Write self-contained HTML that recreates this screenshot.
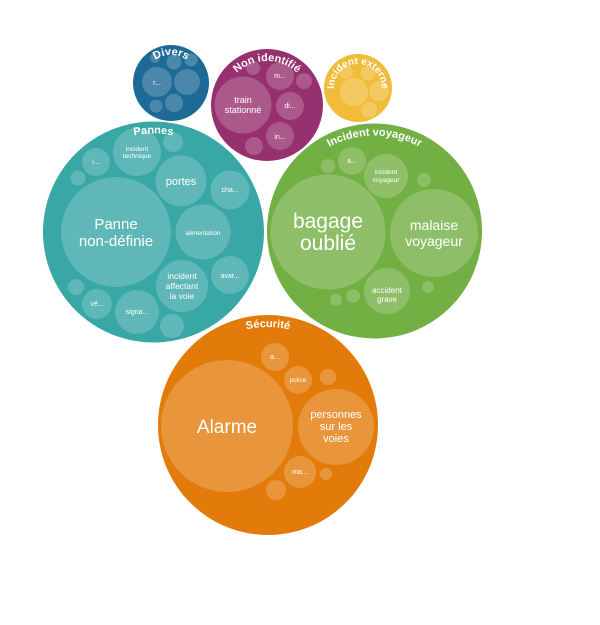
<!DOCTYPE html>
<html><head><meta charset="utf-8"><style>
html,body{margin:0;padding:0;background:#fff;width:600px;height:625px;overflow:hidden}
svg{display:block}
text{font-family:"Liberation Sans",sans-serif;fill:#fff;text-anchor:middle}
.t{font-weight:bold;font-size:11px}
</style></head><body>
<svg width="600" height="625" viewBox="0 0 600 625">
<defs>
<path id="aDiv" d="M143,83 A28,28 0 0 1 199,83"/>
<path id="aNon" d="M223,105 A44,44 0 0 1 311,105"/>
<path id="aExt" d="M337.2,100 A24,24 0 1 1 378.8,100"/>
<path id="aPan" d="M55,232 A98.5,98.5 0 0 1 252,232"/>
<path id="aVoy" d="M279,231 A95.5,95.5 0 0 1 470,231"/>
<path id="aSec" d="M170,425 A98,98 0 0 1 366,425"/>
</defs>
<g fill="#fff" fill-opacity="0.2">
<circle cx="171" cy="83" r="38" fill="#1e6a96" fill-opacity="1"/>
<circle cx="157" cy="82" r="15"/><circle cx="187" cy="82" r="13"/><circle cx="174" cy="103" r="9"/>
<circle cx="156" cy="106" r="6.5"/><circle cx="174" cy="62" r="7.5"/><circle cx="191" cy="60" r="6.5"/><circle cx="155" cy="58" r="5"/>
<circle cx="267" cy="105" r="56" fill="#96306e" fill-opacity="1"/>
<circle cx="243" cy="105" r="28.5"/><circle cx="280" cy="76" r="14"/><circle cx="304" cy="81" r="8"/>
<circle cx="290" cy="106" r="14"/><circle cx="280" cy="136" r="14"/><circle cx="254" cy="146" r="9"/><circle cx="253" cy="68" r="7"/>
<circle cx="358" cy="88" r="34" fill="#f0bc3a" fill-opacity="1"/>
<circle cx="354" cy="92" r="14"/><circle cx="379" cy="91" r="10"/><circle cx="369" cy="110" r="8"/><circle cx="368" cy="73" r="7"/><circle cx="346" cy="72" r="7"/>
<circle cx="153.5" cy="232" r="110.5" fill="#38a7a5" fill-opacity="1"/>
<circle cx="116" cy="232" r="55"/><circle cx="137" cy="152" r="24"/><circle cx="173" cy="142" r="10"/>
<circle cx="96" cy="162" r="14"/><circle cx="78" cy="178" r="7.5"/><circle cx="181" cy="181" r="25.5"/>
<circle cx="230" cy="190" r="19.5"/><circle cx="203" cy="232" r="27.5"/><circle cx="182" cy="286" r="26"/>
<circle cx="230" cy="275" r="19"/><circle cx="97" cy="304" r="15"/><circle cx="137" cy="312" r="22"/>
<circle cx="76" cy="287" r="8"/><circle cx="172" cy="326" r="12"/>
<circle cx="374.5" cy="231" r="107.5" fill="#72b043" fill-opacity="1"/>
<circle cx="328" cy="232" r="57.5"/><circle cx="434" cy="233" r="44"/><circle cx="386" cy="176" r="22"/>
<circle cx="352" cy="161" r="14"/><circle cx="328" cy="166" r="7"/><circle cx="424" cy="180" r="7"/>
<circle cx="387" cy="291" r="23"/><circle cx="428" cy="287" r="6"/><circle cx="353" cy="296" r="7"/><circle cx="336" cy="300" r="6"/>
<circle cx="268" cy="425" r="110" fill="#e37b0b" fill-opacity="1"/>
<circle cx="227" cy="426" r="66"/><circle cx="336" cy="427" r="38"/><circle cx="275" cy="357" r="14"/>
<circle cx="298" cy="380" r="14"/><circle cx="328" cy="377" r="8"/><circle cx="300" cy="472" r="16"/>
<circle cx="276" cy="490" r="10"/><circle cx="326" cy="474" r="6"/>
</g>
<text class="t"><textPath href="#aDiv" startOffset="50%">Divers</textPath></text>
<text class="t"><textPath href="#aNon" startOffset="50%">Non identifié</textPath></text>
<text class="t" style="font-size:10px"><textPath href="#aExt" startOffset="50%">Incident externe</textPath></text>
<text class="t"><textPath href="#aPan" startOffset="50%">Pannes</textPath></text>
<text class="t"><textPath href="#aVoy" startOffset="50%">Incident voyageur</textPath></text>
<text class="t"><textPath href="#aSec" startOffset="50%">Sécurité</textPath></text>
<g font-size="7">
<text x="157" y="85">r...</text>
<text x="243" y="103" font-size="9">train</text><text x="243" y="113" font-size="9">stationné</text>
<text x="280" y="78">m...</text><text x="290" y="108">di...</text><text x="280" y="139">in...</text>
<text x="116" y="229" font-size="15">Panne</text><text x="116" y="246" font-size="15">non-définie</text>
<text x="137" y="151" font-size="6.5">incident</text><text x="137" y="158" font-size="6.5">technique</text>
<text x="96" y="164">i...</text>
<text x="181" y="185" font-size="11">portes</text>
<text x="230" y="192">cha...</text>
<text x="203" y="235" font-size="6.5">alimentation</text>
<text x="182" y="279" font-size="8.5">incident</text><text x="182" y="289" font-size="8.5">affectant</text><text x="182" y="299" font-size="8.5">la voie</text>
<text x="230" y="278">avar...</text>
<text x="97" y="306">vé...</text>
<text x="137" y="314">signa...</text>
<text x="328" y="228" font-size="21">bagage</text><text x="328" y="250" font-size="21">oublié</text>
<text x="434" y="230" font-size="14">malaise</text><text x="434" y="246" font-size="14">voyageur</text>
<text x="386" y="174" font-size="6.5">incident</text><text x="386" y="182" font-size="6.5">voyageur</text>
<text x="352" y="163">a...</text>
<text x="387" y="293" font-size="8">accident</text><text x="387" y="302" font-size="8">grave</text>
<text x="227" y="433" font-size="19">Alarme</text>
<text x="336" y="418" font-size="11">personnes</text><text x="336" y="430" font-size="11">sur les</text><text x="336" y="442" font-size="11">voies</text>
<text x="275" y="359">a...</text>
<text x="298" y="382" font-size="6.5">police</text>
<text x="300" y="474">ma...</text>
</g>
</svg>
</body></html>
